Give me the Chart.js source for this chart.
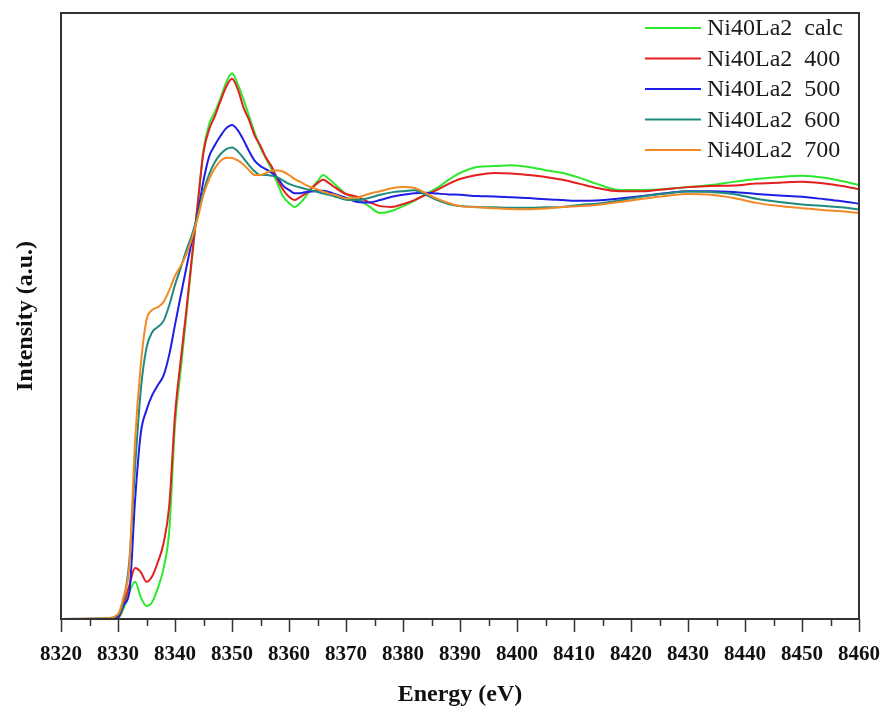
<!DOCTYPE html>
<html>
<head>
<meta charset="utf-8">
<script src="https://cdn.jsdelivr.net/npm/chart.js@4/dist/chart.umd.min.js"></script>
<style>
  html, body { margin: 0; padding: 0; background: #ffffff; }
  #wrap { width: 885px; height: 711px; }
</style>
</head>
<body>
<div id="wrap"><canvas id="c" width="885" height="711"></canvas></div>
<script>
// Energy grid (eV)
const energy = [8320, 8328, 8330, 8331, 8332, 8333, 8334, 8335, 8336, 8337, 8338, 8339, 8340, 8341, 8342, 8343, 8344, 8345, 8346, 8347, 8348, 8349, 8350, 8351, 8352, 8353, 8354, 8355, 8356, 8357, 8358, 8359, 8360, 8361, 8362, 8363, 8364, 8365, 8366, 8367, 8368, 8370, 8372, 8374, 8376, 8378, 8380, 8382, 8384, 8386, 8388, 8390, 8393, 8396, 8399, 8402, 8405, 8408, 8411, 8414, 8418, 8422, 8426, 8430, 8434, 8438, 8442, 8446, 8450, 8454, 8457, 8460];

// Normalised intensity (a.u.)
const calc = [0, 0, 0.002, 0.027, 0.067, 0.092, 0.054, 0.032, 0.042, 0.077, 0.126, 0.22, 0.48, 0.616, 0.752, 0.894, 1.03, 1.161, 1.225, 1.255, 1.29, 1.329, 1.351, 1.324, 1.287, 1.245, 1.203, 1.166, 1.139, 1.111, 1.077, 1.045, 1.03, 1.02, 1.03, 1.047, 1.067, 1.084, 1.099, 1.089, 1.077, 1.052, 1.04, 1.022, 1.005, 1.01, 1.022, 1.035, 1.052, 1.067, 1.087, 1.104, 1.119, 1.121, 1.123, 1.119, 1.111, 1.104, 1.092, 1.077, 1.062, 1.062, 1.064, 1.069, 1.074, 1.082, 1.089, 1.094, 1.097, 1.092, 1.084, 1.074];
const t400 = [0, 0, 0.002, 0.035, 0.084, 0.126, 0.116, 0.092, 0.106, 0.141, 0.188, 0.282, 0.505, 0.64, 0.765, 0.9, 1.03, 1.155, 1.212, 1.245, 1.283, 1.318, 1.337, 1.312, 1.267, 1.235, 1.196, 1.171, 1.141, 1.119, 1.087, 1.062, 1.045, 1.037, 1.045, 1.054, 1.067, 1.079, 1.087, 1.079, 1.069, 1.052, 1.045, 1.032, 1.022, 1.02, 1.027, 1.037, 1.05, 1.062, 1.077, 1.089, 1.099, 1.104, 1.103, 1.099, 1.094, 1.087, 1.077, 1.067, 1.059, 1.059, 1.064, 1.069, 1.072, 1.073, 1.078, 1.08, 1.082, 1.078, 1.072, 1.064];
const t500 = [0, 0, 0.005, 0.035, 0.067, 0.295, 0.46, 0.517, 0.554, 0.579, 0.603, 0.655, 0.728, 0.8, 0.87, 0.938, 1.005, 1.085, 1.145, 1.173, 1.196, 1.215, 1.223, 1.21, 1.186, 1.158, 1.134, 1.121, 1.113, 1.104, 1.092, 1.072, 1.062, 1.054, 1.054, 1.057, 1.058, 1.06, 1.06, 1.057, 1.052, 1.043, 1.032, 1.031, 1.037, 1.045, 1.05, 1.054, 1.055, 1.053, 1.051, 1.05, 1.047, 1.046, 1.044, 1.042, 1.039, 1.037, 1.035, 1.036, 1.041, 1.047, 1.054, 1.059, 1.059, 1.057, 1.052, 1.048, 1.045, 1.039, 1.034, 1.028];
const t600 = [0, 0.002, 0.01, 0.047, 0.146, 0.376, 0.567, 0.671, 0.71, 0.723, 0.738, 0.777, 0.827, 0.869, 0.913, 0.952, 1.0, 1.058, 1.101, 1.131, 1.151, 1.163, 1.167, 1.158, 1.141, 1.123, 1.108, 1.099, 1.099, 1.097, 1.093, 1.085, 1.077, 1.072, 1.068, 1.064, 1.061, 1.057, 1.053, 1.05, 1.046, 1.038, 1.037, 1.042, 1.05, 1.056, 1.059, 1.061, 1.05, 1.037, 1.027, 1.022, 1.02, 1.019, 1.018, 1.018, 1.019, 1.02, 1.025, 1.028, 1.036, 1.046, 1.053, 1.058, 1.057, 1.052, 1.04, 1.032, 1.026, 1.022, 1.019, 1.014];
const t700 = [0, 0.002, 0.012, 0.057, 0.134, 0.443, 0.629, 0.74, 0.765, 0.772, 0.785, 0.814, 0.849, 0.874, 0.903, 0.943, 0.993, 1.05, 1.089, 1.116, 1.134, 1.142, 1.141, 1.135, 1.125, 1.111, 1.099, 1.099, 1.104, 1.11, 1.11, 1.107, 1.099, 1.089, 1.082, 1.074, 1.068, 1.063, 1.058, 1.053, 1.05, 1.041, 1.043, 1.052, 1.059, 1.066, 1.069, 1.067, 1.054, 1.04, 1.03, 1.022, 1.019, 1.017, 1.015, 1.014, 1.016, 1.02, 1.022, 1.025, 1.032, 1.04, 1.047, 1.052, 1.05, 1.042, 1.03, 1.022, 1.017, 1.012, 1.009, 1.005];

const seriesNames = ['Ni40La2  calc', 'Ni40La2  400', 'Ni40La2  500', 'Ni40La2  600', 'Ni40La2  700'];
const seriesValues = [calc, t400, t500, t600, t700];
const seriesColors = ['#2ee82e', '#e31f1f', '#1e1ee6', '#1f8a7e', '#f28a26'];
const xTickStep = 10;

const datasets = seriesValues.map((vals, i) => ({
  label: seriesNames[i],
  data: energy.map((e, k) => ({ x: e, y: vals[k] })),
  borderColor: seriesColors[i],
  backgroundColor: seriesColors[i],
  borderWidth: 2,
  pointRadius: 0,
  cubicInterpolationMode: 'monotone',
  fill: false,
  clip: 4,
  order: seriesValues.length - i
}));

const AXIS_COLOR = '#333333';

const framePlugin = {
  id: 'frame',
  afterDraw(chart) {
    const { ctx, chartArea: a, scales } = chart;
    ctx.save();
    // minor ticks
    const xs = scales.x;
    ctx.strokeStyle = AXIS_COLOR;
    ctx.lineWidth = 1.5;
    for (let v = xs.min + xTickStep / 2; v < xs.max; v += xTickStep) {
      const px = Math.round(xs.getPixelForValue(v)) + 0.5;
      ctx.beginPath();
      ctx.moveTo(px, a.bottom);
      ctx.lineTo(px, a.bottom + 7);
      ctx.stroke();
    }
    // frame
    ctx.lineWidth = 2;
    ctx.strokeRect(a.left, a.top, a.right - a.left, a.bottom - a.top);
    // legend
    ctx.font = '24px "Liberation Serif", "Times New Roman", serif';
    ctx.textBaseline = 'middle';
    ctx.textAlign = 'left';
    chart.data.datasets.forEach((ds, i) => {
      const y = a.top + 15 + i * 30.5;
      ctx.strokeStyle = ds.borderColor;
      ctx.lineWidth = 2;
      ctx.beginPath();
      ctx.moveTo(645, y);
      ctx.lineTo(701, y);
      ctx.stroke();
      ctx.fillStyle = '#1a1a1a';
      ctx.fillText(ds.label, 707, y + 1);
    });
    ctx.restore();
  }
};

new Chart(document.getElementById('c'), {
  type: 'line',
  data: { datasets },
  plugins: [framePlugin],
  options: {
    responsive: false,
    animation: false,
    events: [],
    layout: { padding: { top: 13, right: 26, left: 0, bottom: 0 } },
    plugins: { legend: { display: false }, tooltip: { enabled: false } },
    scales: {
      x: {
        type: 'linear',
        min: 8320,
        max: 8460,
        afterFit(s) { s.height = 92; s.paddingLeft = 0; s.paddingRight = 0; },
        grid: { display: true, drawOnChartArea: false, drawTicks: true, tickLength: 13, tickWidth: 1.5, tickColor: AXIS_COLOR, color: AXIS_COLOR },
        border: { display: false },
        ticks: {
          stepSize: xTickStep,
          autoSkip: false,
          maxRotation: 0,
          padding: 10,
          color: '#111111',
          font: { family: '"Liberation Serif", "Times New Roman", serif', size: 21, weight: 'bold' },
          callback: (v) => String(v)
        },
        title: {
          display: true,
          text: 'Energy (eV)',
          color: '#111111',
          padding: { top: 0, bottom: 2 },
          font: { family: '"Liberation Serif", "Times New Roman", serif', size: 24, weight: 'bold' }
        }
      },
      y: {
        type: 'linear',
        min: 0,
        max: 1.5,
        afterFit(s) { s.width = 61; s.paddingTop = 0; s.paddingBottom = 0; },
        grid: { display: false },
        border: { display: false },
        ticks: { display: false },
        title: {
          display: true,
          text: 'Intensity (a.u.)',
          color: '#111111',
          padding: { top: 11, bottom: 0 },
          font: { family: '"Liberation Serif", "Times New Roman", serif', size: 24, weight: 'bold' }
        }
      }
    }
  }
});
</script>
</body>
</html>
